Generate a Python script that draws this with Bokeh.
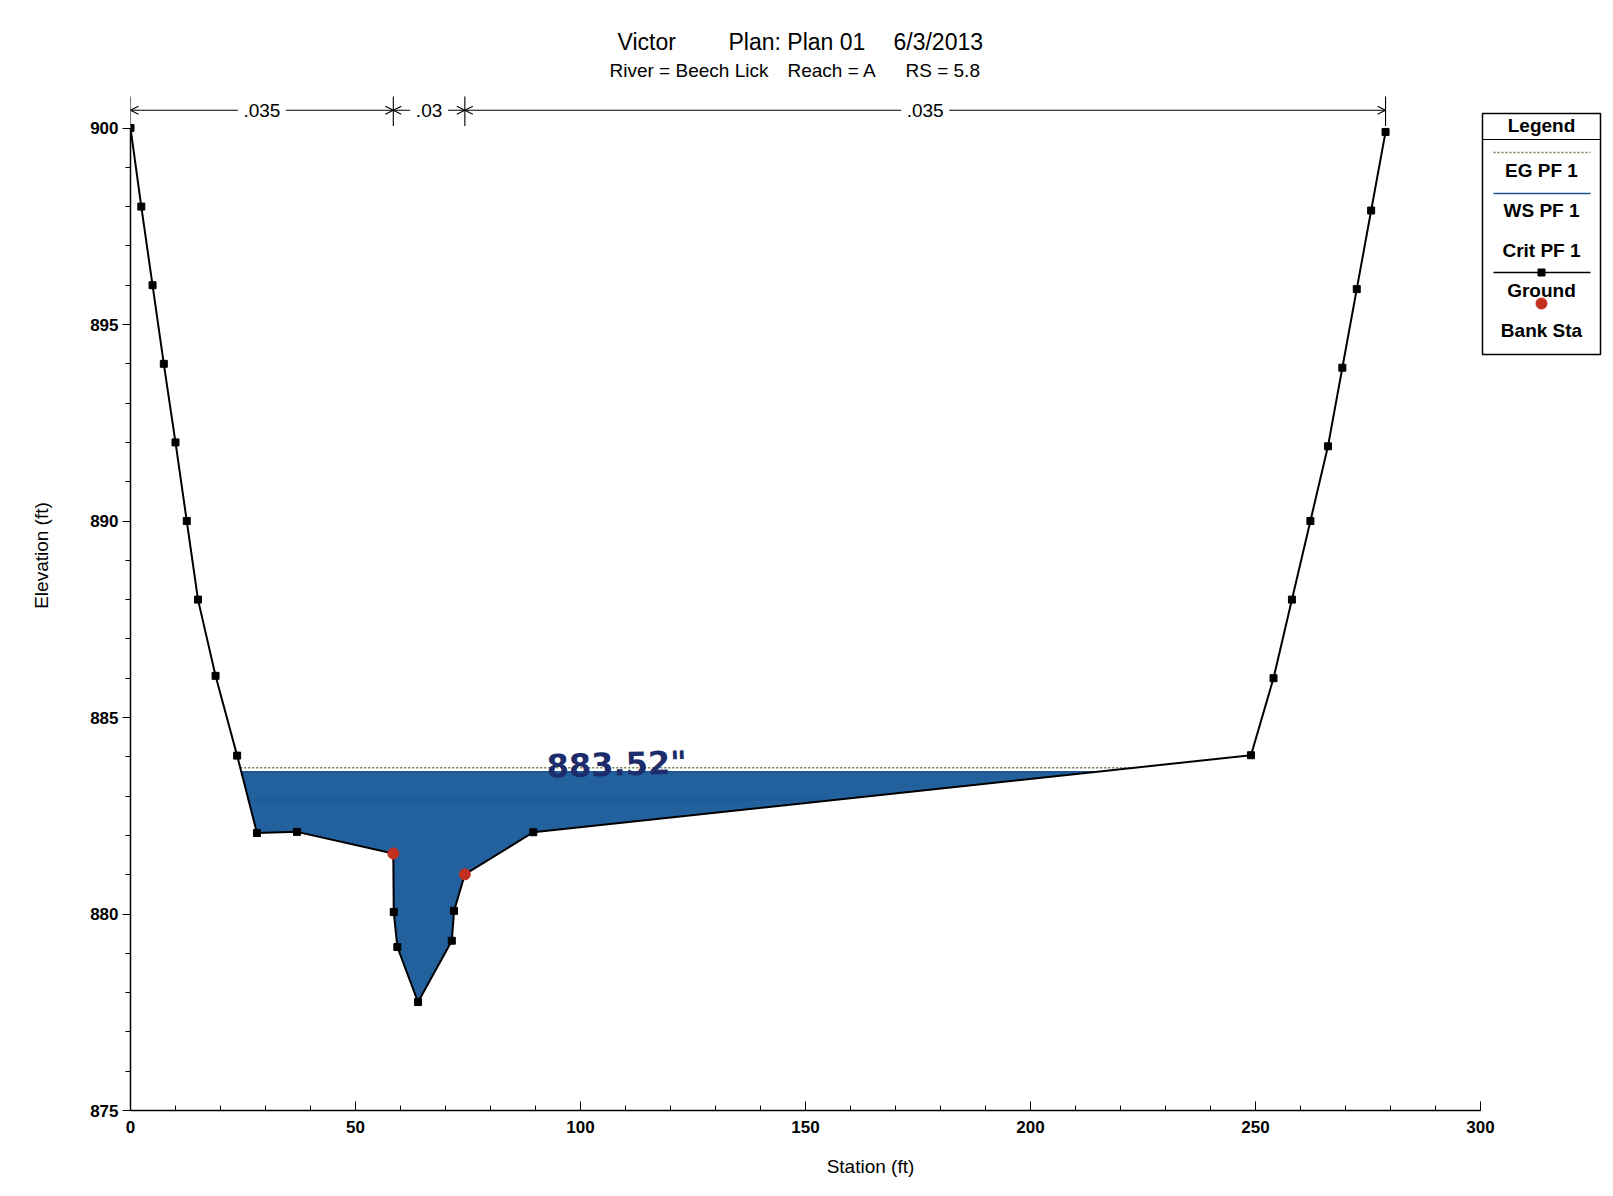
import numpy as np
from bokeh.plotting import figure
from bokeh.models import Range1d, LinearAxis, FixedTicker, Arrow, OpenHead, Grid
from bokeh.core.properties import value
from bokeh.embed import file_html
from bokeh.resources import INLINE

# ---------------- data ----------------
station = [0.0, 2.4, 4.9, 7.4, 10.0, 12.5, 15.0, 18.9, 23.7, 28.1, 37.0,
           58.4, 58.5, 59.3, 63.9, 71.4, 71.9, 74.3, 89.5,
           249.0, 254.0, 258.1, 262.2, 266.1, 269.3, 272.5, 275.7, 278.9]
elevation = [900.0, 898.0, 896.0, 894.0, 892.0, 890.0, 888.0, 886.06, 884.03, 882.06, 882.09,
             881.54, 880.05, 879.16, 877.76, 879.32, 880.08, 881.01, 882.08,
             884.04, 886.0, 888.0, 890.0, 891.9, 893.9, 895.9, 897.9, 899.9]
bank_station = [58.4, 74.3]
ws_elev = 883.62
eg_elev = 883.72
crit_elev = 882.90
n_break_station = [0.0, 58.4, 74.3, 278.9]
n_values = [".035", ".03", ".035"]
x_ticks = [0, 50, 100, 150, 200, 250, 300]
x_minor = list(range(0, 301, 10))
y_ticks = [875, 880, 885, 890, 895, 900]
y_minor = list(range(875, 901))
title_parts = ["Victor", "Plan: Plan 01", "6/3/2013"]
subtitle_parts = ["River = Beech Lick", "Reach = A", "RS = 5.8"]
legend_labels = ["EG PF 1", "WS PF 1", "Crit PF 1", "Ground", "Bank Sta"]
note_text = '883.52"'

# ---------------- layout ----------------
FIG_W, FIG_H = 1610, 1192
X0_PAGE, Y875_PAGE = 130, 1110
SX, SY = 4.5, 39.3
BL = X0_PAGE
BB = FIG_H - Y875_PAGE
x_end = (FIG_W - BL) / SX
y_end = 875 + Y875_PAGE / SY


def px(xp):
    return (xp - X0_PAGE) / SX


def py(yp):
    return 875 + (Y875_PAGE - yp) / SY


FONT = "Liberation Sans"
WATER = "#23609e"

p = figure(width=FIG_W, height=FIG_H, x_range=Range1d(0, x_end), y_range=Range1d(875, y_end),
           output_backend="svg", toolbar_location=None, x_axis_location=None, y_axis_location=None,
           min_border_left=BL, min_border_bottom=BB, min_border_top=0, min_border_right=0)
p.outline_line_color = None
p.background_fill_color = "white"
p.border_fill_color = "white"
p.center = [c for c in p.center if not isinstance(c, Grid)]

xa = LinearAxis(bounds=(0, 300), ticker=FixedTicker(ticks=x_ticks, minor_ticks=x_minor),
                axis_label="Station (ft)")
ya = LinearAxis(bounds=(875, 900), ticker=FixedTicker(ticks=y_ticks, minor_ticks=y_minor),
                axis_label="Elevation (ft)")
for ax in (xa, ya):
    ax.axis_line_color = "black"
    ax.axis_line_width = 1.5
    ax.major_tick_line_color = "black"
    ax.minor_tick_line_color = "black"
    ax.major_label_text_font = FONT
    ax.major_label_text_font_style = "bold"
    ax.major_label_text_font_size = "17px"
    ax.major_label_text_color = "black"
    ax.axis_label_text_font = FONT
    ax.axis_label_text_font_style = "normal"
    ax.axis_label_text_font_size = "19px"
    ax.axis_label_text_color = "black"
xa.major_tick_in, xa.major_tick_out = 9, 0
xa.minor_tick_in, xa.minor_tick_out = 5, 0
xa.major_label_standoff = 10
xa.axis_label_standoff = 20
ya.major_tick_in, ya.major_tick_out = 0, 8
ya.minor_tick_in, ya.minor_tick_out = 0, 5
ya.major_label_standoff = 4
ya.axis_label_standoff = 35
p.add_layout(xa, "below")
p.add_layout(ya, "left")

st = np.asarray(station)
el = np.asarray(elevation)


def wet_extent(level):
    below = np.where(el < level)[0]
    i, j = below[0], below[-1]
    xl = st[i - 1] + (el[i - 1] - level) / (el[i - 1] - el[i]) * (st[i] - st[i - 1])
    xr = st[j] + (level - el[j]) / (el[j + 1] - el[j]) * (st[j + 1] - st[j])
    return xl, xr, i, j


# water
xl, xr, i, j = wet_extent(ws_elev)
wx = [xl] + list(st[i:j + 1]) + [xr]
wy = [ws_elev] + list(el[i:j + 1]) + [ws_elev]
p.patch(wx, wy, fill_color=WATER, line_color=None)
p.line([xl, xr], [ws_elev, ws_elev], line_color="#1d548f", line_width=1.5)

# critical
cl, cr, _, _ = wet_extent(crit_elev)
p.line([cl, cr], [crit_elev, crit_elev], line_color="#1f5793", line_width=1.5)

# energy grade
el_, er_, _, _ = wet_extent(eg_elev)
p.line([el_, er_], [eg_elev, eg_elev], line_color="#6c7d52", line_width=1.6, line_dash="2 2")

# ground
p.line(station, elevation, line_color="black", line_width=2)
p.scatter(station, elevation, marker="square", size=7, color="black")
bank_elev = list(np.interp(bank_station, st, el))
p.scatter(bank_station, bank_elev, marker="circle", size=11, fill_color="#c3301f", line_color="#c3301f")

# n values
NY = 900.45
for k, txt in enumerate(n_values):
    a, b = n_break_station[k], n_break_station[k + 1]
    mid = (a + b) / 2
    hg = (len(txt) * 10 + 8) / 2 / SX
    for xs, xe in ((mid - hg, a), (mid + hg, b)):
        p.add_layout(Arrow(end=OpenHead(size=8, line_width=1.1, line_color="black"),
                           x_start=xs, y_start=NY, x_end=xe, y_end=NY,
                           line_width=1.1, line_color="black"))
    p.text([mid], [NY], text=[txt], text_font=value(FONT), text_font_size="19px",
           text_align="center", text_baseline="middle", text_color="black")
p.segment(x0=n_break_station, y0=[900.05] * 4, x1=n_break_station, y1=[900.8] * 4,
          line_color="black", line_width=1.1)

# handwritten note
p.text([92.5], [eg_elev + 0.03], text=[note_text], text_font=value("DejaVu Sans"),
       text_font_size="32px", text_font_style="bold", text_color="#1d2d6b",
       text_align="left", text_baseline="alphabetic", angle=0.03)

# titles
for txt, xp in zip(title_parts, [617, 728, 893]):
    p.text([px(xp)], [py(41)], text=[txt], text_font=value(FONT), text_font_size="23px",
           text_align="left", text_baseline="middle", text_color="black")
for txt, xp in zip(subtitle_parts, [609, 787, 905]):
    p.text([px(xp)], [py(70)], text=[txt], text_font=value(FONT), text_font_size="19px",
           text_align="left", text_baseline="middle", text_color="black")

# legend
LCX = 1541
p.quad(left=[px(1482)], right=[px(1600)], top=[py(113)], bottom=[py(354)],
       fill_color="white", line_color="black", line_width=1.5)
p.segment(x0=[px(1482)], y0=[py(139)], x1=[px(1600)], y1=[py(139)], line_color="black", line_width=1)
p.text([px(LCX)], [py(125)], text=["Legend"], text_font=value(FONT), text_font_size="19px",
       text_font_style="bold", text_align="center", text_baseline="middle", text_color="black")
p.line([px(1493), px(1590)], [py(152)] * 2, line_color="#6c7d52", line_width=1.6, line_dash="2 2")
p.line([px(1493), px(1590)], [py(193)] * 2, line_color="#1d548f", line_width=1.5)
p.line([px(1493), px(1590)], [py(272)] * 2, line_color="black", line_width=1.5)
p.scatter([px(LCX)], [py(272)], marker="square", size=7, color="black")
p.scatter([px(LCX)], [py(303)], marker="circle", size=11, fill_color="#c3301f", line_color="#c3301f")
for txt, yp in zip(legend_labels, [170, 210, 250, 290, 330]):
    p.text([px(LCX)], [py(yp)], text=[txt], text_font=value(FONT), text_font_size="19px",
           text_font_style="bold", text_align="center", text_baseline="middle", text_color="black")

open("out.html", "w").write(file_html(p, INLINE))
